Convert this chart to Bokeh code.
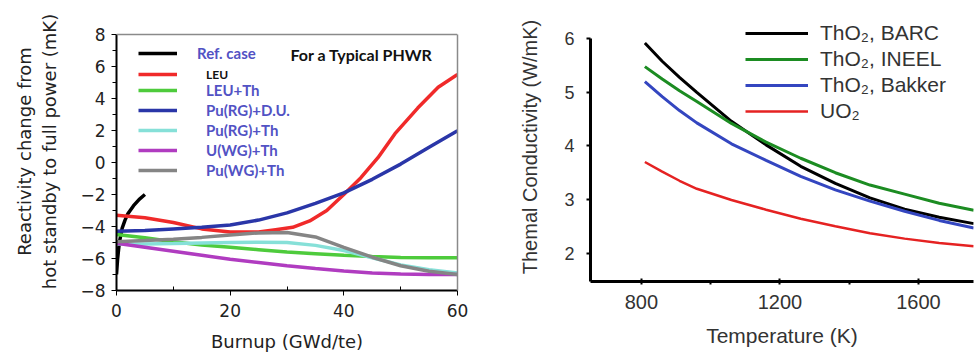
from bokeh.plotting import figure
from bokeh.layouts import row
from bokeh.models import FixedTicker, Legend, LegendItem, Label, Range1d, Span, LinearAxis
from bokeh.embed import file_html
from bokeh.resources import INLINE

# ---------------- Left chart data (Burnup vs reactivity change) ----------------
ref_x = [0, 0.2, 0.5, 1, 1.5, 2, 3, 4, 5]
ref_y = [-7.0, -6.0, -5.0, -4.1, -3.6, -3.2, -2.7, -2.3, -2.0]

leu_x = [0, 5, 10, 15, 20, 25, 28, 31, 34, 37, 40, 43, 46, 49, 53, 56.6, 60]
leu_y = [-3.3, -3.45, -3.75, -4.15, -4.35, -4.35, -4.2, -4.05, -3.65, -3.0, -2.0,
         -0.95, 0.3, 1.8, 3.4, 4.7, 5.5]

burnup = [0, 5, 10, 15, 20, 25, 30, 35, 40, 45, 50, 55, 60]
leu_th = [-4.5, -4.7, -4.95, -5.15, -5.3, -5.45, -5.6, -5.7, -5.8, -5.88, -5.93, -5.95, -5.96]
pu_rg_du = [-4.3, -4.25, -4.15, -4.05, -3.9, -3.6, -3.15, -2.55, -1.9, -1.05, -0.1, 0.95, 1.98]
pu_rg_th = [-5.1, -5.1, -5.07, -5.03, -5.0, -4.98, -5.0, -5.18, -5.5, -5.95, -6.4, -6.7, -6.9]
u_wg_th = [-5.05, -5.3, -5.55, -5.8, -6.05, -6.25, -6.45, -6.62, -6.78, -6.9, -6.97, -7.0, -7.0]
pu_wg_th = [-4.95, -4.88, -4.8, -4.68, -4.53, -4.4, -4.38, -4.65, -5.3, -5.92, -6.45, -6.8, -7.0]

left_yticks = [-8, -6, -4, -2, 0, 2, 4, 6, 8]
left_xticks = [0, 20, 40, 60]

# ---------------- Right chart data (Thermal conductivity) ----------------
temp = [810, 860, 910, 960, 1060, 1160, 1260, 1360, 1460, 1560, 1660, 1760]
tho2_barc = [5.92, 5.58, 5.28, 5.0, 4.46, 4.02, 3.62, 3.30, 3.03, 2.82, 2.67, 2.55]
tho2_ineel = [5.48, 5.25, 5.03, 4.83, 4.42, 4.07, 3.77, 3.50, 3.27, 3.10, 2.93, 2.80]
tho2_bakker = [5.20, 4.92, 4.66, 4.43, 4.04, 3.73, 3.43, 3.18, 2.97, 2.78, 2.61, 2.47]
uo2 = [3.70, 3.52, 3.35, 3.20, 2.99, 2.81, 2.64, 2.50, 2.37, 2.27, 2.19, 2.13]

right_xticks = [800, 1200, 1600]
right_yticks = [2, 3, 4, 5, 6]

# ================= LEFT FIGURE =================
p1 = figure(frame_width=341, frame_height=278, output_backend="svg", toolbar_location=None,
            title=None, x_range=Range1d(0, 60), y_range=Range1d(-8, 9.375),
            min_border_left=116, min_border_right=33, min_border_top=12,
            min_border_bottom=68)
p1.grid.visible = False
p1.outline_line_color = None
p1.background_fill_color = "white"

for ax in (p1.xaxis[0], p1.yaxis[0]):
    ax.axis_line_color = "black"
    ax.axis_line_width = 2
    ax.major_tick_line_color = "black"
    ax.minor_tick_line_color = "black"
    ax.major_label_text_font = "DejaVu Sans"
    ax.major_label_text_font_size = "17px"
    ax.major_label_text_color = "#222222"
    ax.axis_label_text_font = "DejaVu Sans"
    ax.axis_label_text_font_size = "18px"
    ax.axis_label_text_font_style = "normal"
    ax.axis_label_text_color = "#222222"

p1.yaxis.bounds = (-8, 8)
p1.yaxis.ticker = FixedTicker(ticks=left_yticks, minor_ticks=[-7, -5, -3, -1, 1, 3, 5, 7])
p1.xaxis.ticker = FixedTicker(ticks=left_xticks, minor_ticks=[10, 30, 50])
p1.yaxis.major_tick_out = 5
p1.yaxis.major_tick_in = 0
p1.yaxis.minor_tick_out = 4
p1.yaxis.minor_tick_in = 0
p1.xaxis.major_tick_out = 5
p1.xaxis.major_tick_in = 0
p1.xaxis.minor_tick_out = 0
p1.xaxis.minor_tick_in = 4
p1.yaxis.major_label_standoff = 6
p1.xaxis.major_label_standoff = 8
p1.yaxis.axis_label = "Reactivity change from\nhot standby to full power (mK)"
p1.xaxis.axis_label = "Burnup (GWd/te)"
p1.yaxis.axis_label_standoff = 17
p1.xaxis.axis_label_standoff = 11

# gray frame border (top and right) of the left panel
p1.add_layout(Span(location=8, dimension="width", line_color="#8a8a8a", line_width=1.5))
right_border = LinearAxis(bounds=(-8, 8), axis_line_color="#8a8a8a", axis_line_width=1.5,
                          major_tick_line_color=None, minor_tick_line_color=None,
                          major_label_text_font_size="0px", ticker=FixedTicker(ticks=[]))
p1.add_layout(right_border, "right")

lw = 3.5
r_ref = p1.line(ref_x, ref_y, line_color="black", line_width=lw)
r_leu = p1.line(leu_x, leu_y, line_color="#f02a2a", line_width=lw)
r_leuth = p1.line(burnup, leu_th, line_color="#4ecb3c", line_width=lw)
r_purgth = p1.line(burnup, pu_rg_th, line_color="#86e0d8", line_width=lw)
r_uwg = p1.line(burnup, u_wg_th, line_color="#b03cc0", line_width=lw)
r_puwg = p1.line(burnup, pu_wg_th, line_color="#858585", line_width=lw)
r_purgdu = p1.line(burnup, pu_rg_du, line_color="#2a36a8", line_width=lw)


def make_legend(items, loc, standoff, color, size, height=20):
    lg = Legend(items=items, location=loc, orientation="vertical",
                padding=0, margin=0, spacing=0,
                glyph_width=39, glyph_height=height, label_height=height,
                label_standoff=standoff,
                label_text_font="Lato", label_text_font_style="bold",
                label_text_font_size=size, label_text_color=color,
                label_text_baseline="middle",
                border_line_color=None, background_fill_alpha=0)
    return lg

blue_txt = "#5252c4"
lg1 = make_legend([LegendItem(label="Ref. case", renderers=[r_ref])], (22, 227), 20, blue_txt, "15px")
lg2 = make_legend([LegendItem(label="LEU", renderers=[r_leu])], (22, 206), 29, "#111111", "12px")
lg3 = make_legend([LegendItem(label="LEU+Th", renderers=[r_leuth]),
                   LegendItem(label="Pu(RG)+D.U.", renderers=[r_purgdu]),
                   LegendItem(label="Pu(RG)+Th", renderers=[r_purgth]),
                   LegendItem(label="U(WG)+Th", renderers=[r_uwg]),
                   LegendItem(label="Pu(WG)+Th", renderers=[r_puwg])],
                  (22, 110), 29, blue_txt, "15px")
for lg in (lg1, lg2, lg3):
    p1.add_layout(lg)

p1.add_layout(Label(x=30.6, y=6.78, text="For a Typical PHWR", text_font="Lato",
                    text_font_style="bold", text_font_size="16px", text_color="#111111",
                    text_baseline="middle", text_align="left"))

# ================= RIGHT FIGURE =================
p2 = figure(frame_width=383, frame_height=269, output_backend="svg", toolbar_location=None,
            title=None, x_range=Range1d(653, 1759), y_range=Range1d(1.47, 6.49),
            min_border_left=100, min_border_right=5, min_border_top=12,
            min_border_bottom=77)
p2.grid.visible = False
p2.outline_line_color = None

for ax in (p2.xaxis[0], p2.yaxis[0]):
    ax.axis_line_color = "black"
    ax.axis_line_width = 3
    ax.major_tick_line_color = "black"
    ax.major_tick_line_width = 2
    ax.minor_tick_line_color = "black"
    ax.minor_tick_line_width = 2
    ax.major_label_text_font = "Liberation Sans"
    ax.major_label_text_color = "#333333"
    ax.axis_label_text_font = "Liberation Sans"
    ax.axis_label_text_font_style = "normal"
    ax.axis_label_text_color = "#333333"

p2.yaxis.bounds = (1.47, 6.0)
p2.xaxis.ticker = FixedTicker(ticks=right_xticks, minor_ticks=[1000, 1400])
p2.yaxis.ticker = FixedTicker(ticks=right_yticks, minor_ticks=[])
p2.xaxis.major_label_text_font_size = "20px"
p2.yaxis.major_label_text_font_size = "18px"
p2.xaxis.major_tick_out = 3
p2.xaxis.major_tick_in = 3
p2.xaxis.minor_tick_out = 3
p2.xaxis.minor_tick_in = 0
p2.yaxis.major_tick_out = 4
p2.yaxis.major_tick_in = 0
p2.yaxis.major_label_standoff = 12
p2.xaxis.major_label_standoff = 10
p2.xaxis.axis_label = "Temperature (K)"
p2.yaxis.axis_label = "Themal Conductivity (W/mK)"
p2.xaxis.axis_label_text_font_size = "21px"
p2.yaxis.axis_label_text_font_size = "20px"
p2.xaxis.axis_label_standoff = 12
p2.yaxis.axis_label_standoff = 20

q_barc = p2.line(temp, tho2_barc, line_color="black", line_width=3)
q_ineel = p2.line(temp, tho2_ineel, line_color="#1c8c22", line_width=3)
q_bakker = p2.line(temp, tho2_bakker, line_color="#3446c0", line_width=3)
q_uo2 = p2.line(temp, uo2, line_color="#e52222", line_width=2.5)

lg_r = Legend(items=[LegendItem(label="ThO₂, BARC", renderers=[q_barc]),
                     LegendItem(label="ThO₂, INEEL", renderers=[q_ineel]),
                     LegendItem(label="ThO₂, Bakker", renderers=[q_bakker]),
                     LegendItem(label="UO₂", renderers=[q_uo2])],
              location=(155, 157), padding=0, margin=0, spacing=0,
              glyph_width=63, glyph_height=26, label_height=26, label_standoff=12,
              label_text_font="Liberation Sans", label_text_font_size="21px",
              label_text_color="#333333", label_text_baseline="middle",
              border_line_color=None, background_fill_alpha=0)
p2.add_layout(lg_r)

layout = row(p1, p2, spacing=0)
open("out.html", "w").write(file_html(layout, INLINE))
